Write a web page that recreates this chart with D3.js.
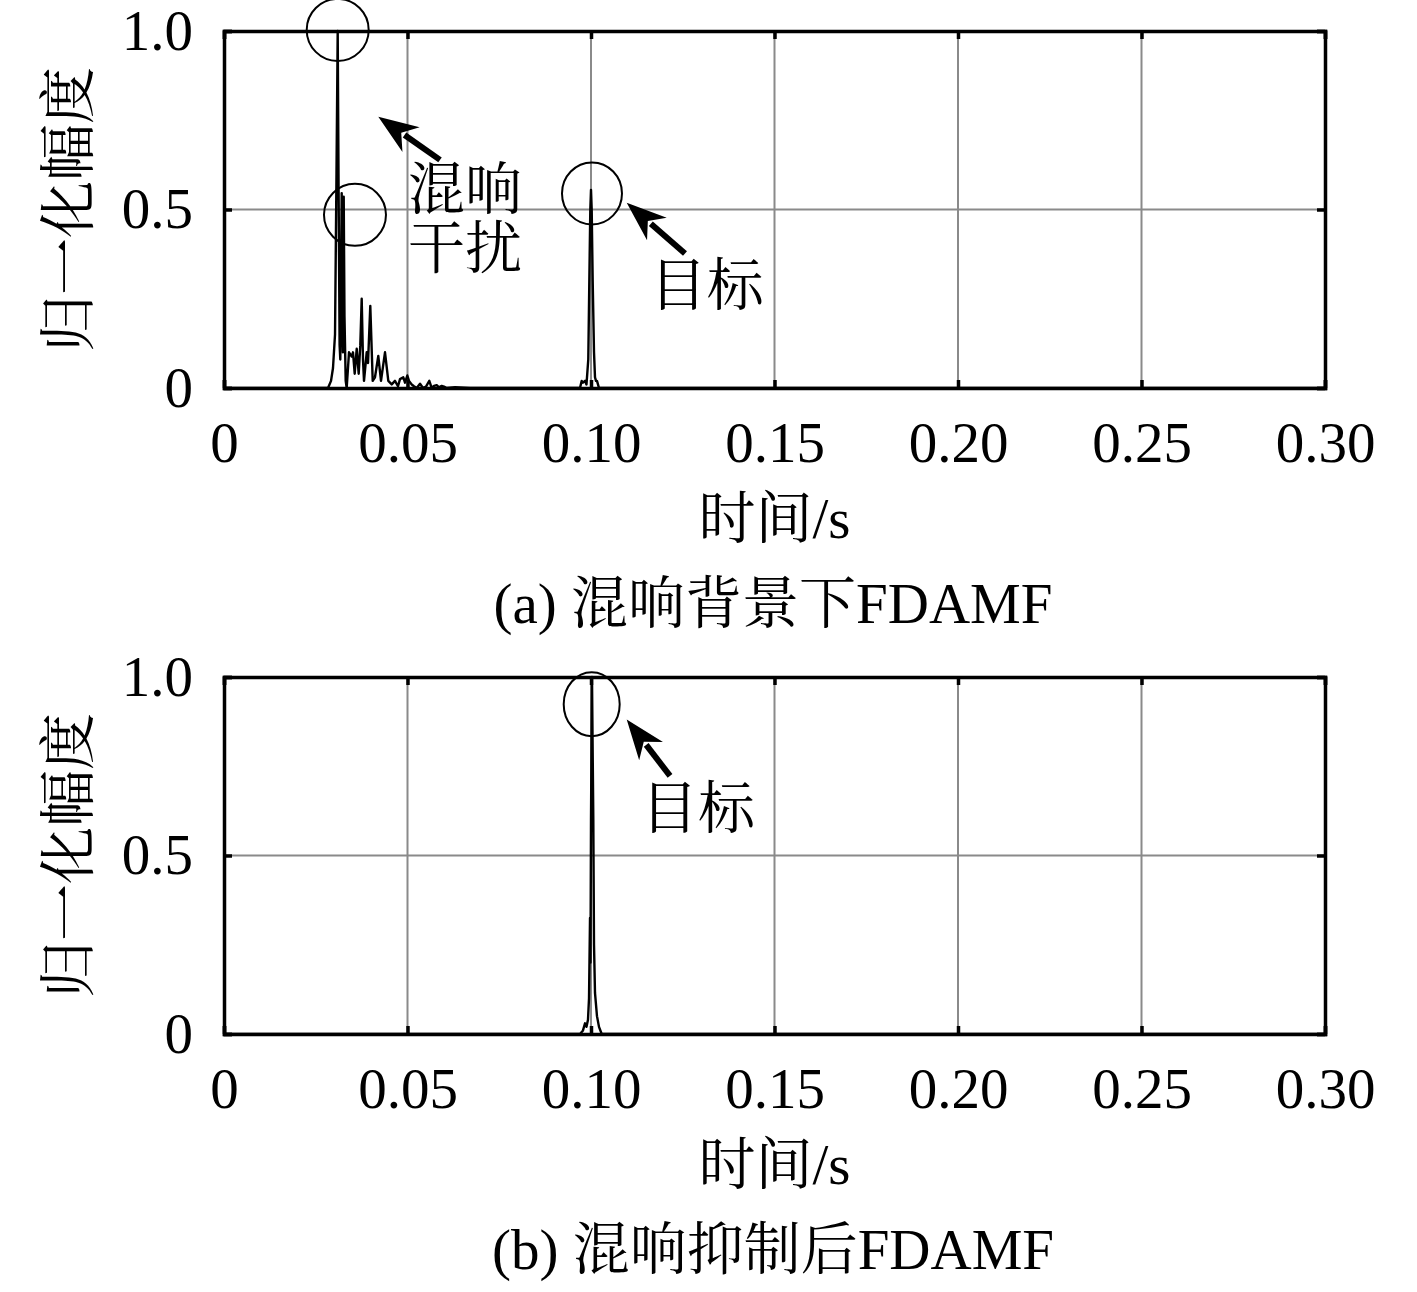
<!DOCTYPE html>
<html>
<head>
<meta charset="utf-8">
<script src="https://cdn.jsdelivr.net/npm/d3@7"></script>
<style>
  body { margin: 0; background: #fff; }
  text { fill: #000; }
</style>
</head>
<body>
<svg class="chart" width="1417" height="1292"></svg>
<script>
// ticks
var xTicks = [0, 0.05, 0.10, 0.15, 0.20, 0.25, 0.30];
var xTickLabels = ["0", "0.05", "0.10", "0.15", "0.20", "0.25", "0.30"];
var yTicks = [0, 0.5, 1.0];
var yTickLabels = ["0", "0.5", "1.0"];

// (a) with reverberation: time (s) and normalized amplitude
var timeA = [0, 0.02834, 0.02916, 0.02970, 0.03025, 0.03065, 0.03098, 0.03123, 0.03150, 0.03169,
  0.03188, 0.03207, 0.03226, 0.03240, 0.03262, 0.03283, 0.03316, 0.03343, 0.03406, 0.03480,
  0.03515, 0.03561, 0.03616, 0.03670, 0.03714, 0.03752, 0.03787, 0.03815, 0.03888, 0.03924,
  0.03986, 0.04052, 0.04114, 0.04204, 0.04278, 0.04332, 0.04387, 0.04477, 0.04570, 0.04659,
  0.04741, 0.04796, 0.04886, 0.04932, 0.04995, 0.05041, 0.05114, 0.05177, 0.05251, 0.05341,
  0.05422, 0.05504, 0.05594, 0.05659, 0.05722, 0.05796, 0.05858, 0.05932, 0.05995, 0.06068,
  0.06294, 0.06703,
  0.09700, 0.09747, 0.09782, 0.09837, 0.09877, 0.09926, 0.09954, 0.09981, 0.10000, 0.10019,
  0.10046, 0.10082, 0.10109, 0.10136, 0.10163, 0.10218, 0.30];
var ampA = [0, 0, 0.02, 0.056, 0.15, 0.60, 1.0, 0.55, 0.12, 0.08,
  0.30, 0.546, 0.20, 0.10, 0.536, 0.20, 0.02, 0.0, 0.10, 0.088,
  0.10, 0.04, 0.11, 0.04, 0.12, 0.25, 0.08, 0.02, 0.10, 0.07,
  0.23, 0.02, 0.03, 0.09, 0.02, 0.06, 0.10, 0.02, 0.01, 0.02,
  0.005, 0.025, 0.03, 0.015, 0.035, 0.02, 0.01, 0.005, 0.0, 0.012,
  0.0, 0.004, 0.02, 0.0, 0.006, 0.008, 0.002, 0.006, 0.004, 0.0,
  0.002, 0,
  0, 0.02, 0.015, 0.02, 0.01, 0.08, 0.30, 0.50, 0.555, 0.50,
  0.30, 0.10, 0.03, 0.02, 0.02, 0, 0];

// (b) after reverberation suppression
var timeB = [0, 0.09700, 0.09782, 0.09837, 0.09877, 0.09918, 0.09946, 0.09973, 0.09986, 0.10000,
  0.10027, 0.10063, 0.10082, 0.10109, 0.10163, 0.10218, 0.10292, 0.30];
var ampB = [0, 0, 0.01, 0.03, 0.02, 0.04, 0.10, 0.325, 0.20, 0.60,
  1.0, 0.60, 0.25, 0.115, 0.05, 0.02, 0, 0];

var panels = [
  { top: 31, time: timeA, amp: ampA, title: "(a) 混响背景下FDAMF",
    circles: [[0.03098, 1.003, 31, 31], [0.03569, 0.485, 31, 31], [0.10027, 0.545, 30, 31]],
    arrows: [[0.05886, 0.639, 0.04204, 0.760], [0.12561, 0.377, 0.10973, 0.519]],
    notes: [["混响", 0.06567, 0.555], ["干扰", 0.06567, 0.392], ["目标", 0.13153, 0.286]] },
  { top: 677, time: timeB, amp: ampB, title: "(b) 混响抑制后FDAMF",
    circles: [[0.10019, 0.924, 28, 32]],
    arrows: [[0.12153, 0.723, 0.10973, 0.881]],
    notes: [["目标", 0.12916, 0.633]] }
];

var svg = d3.select(".chart"),
    left = 224, right = 1325, plotH = 357,
    latin = "'Liberation Serif', 'Times New Roman', serif",
    cjk = "'Liberation Serif', 'Noto Serif CJK SC', 'Noto Sans CJK SC', serif",
    fs = 57;

var x = d3.scaleLinear().domain([0, 0.30]).range([left, right]);

panels.forEach(function(p) {
  var y = d3.scaleLinear().domain([0, 1]).range([p.top + plotH, p.top]);
  var g = svg.append("g");

  // grid
  g.selectAll(".vgrid").data(xTicks.slice(1, -1)).enter().append("line")
    .attr("x1", function(d) { return x(d); }).attr("x2", function(d) { return x(d); })
    .attr("y1", y(0)).attr("y2", y(1))
    .attr("stroke", "#8a8a8a").attr("stroke-width", 2);
  g.selectAll(".hgrid").data([0.5]).enter().append("line")
    .attr("x1", left).attr("x2", right)
    .attr("y1", function(d) { return y(d); }).attr("y2", function(d) { return y(d); })
    .attr("stroke", "#8a8a8a").attr("stroke-width", 2);

  // curve
  var pts = p.time.map(function(t, i) { return [t, p.amp[i]]; });
  g.append("path")
    .datum(pts)
    .attr("fill", "none")
    .attr("stroke", "#000")
    .attr("stroke-width", 2.4)
    .attr("stroke-linejoin", "round")
    .attr("d", d3.line().x(function(d) { return x(d[0]); }).y(function(d) { return y(d[1]); }));

  // axes with inward ticks on all four sides
  var xb = g.append("g").attr("transform", "translate(0," + y(0) + ")")
    .call(d3.axisBottom(x).tickValues(xTicks).tickSize(-8).tickPadding(30)
      .tickFormat(function(d, i) { return xTickLabels[i]; }));
  xb.selectAll(".tick text").attr("y", 34).attr("dy", "0.71em");
  var xt = g.append("g").attr("transform", "translate(0," + y(1) + ")")
    .call(d3.axisTop(x).tickValues(xTicks).tickSize(-8).tickFormat(""));
  var yl = g.append("g").attr("transform", "translate(" + left + ",0)")
    .call(d3.axisLeft(y).tickValues(yTicks).tickSize(-8).tickPadding(31)
      .tickFormat(function(d, i) { return yTickLabels[i]; }));
  var yr = g.append("g").attr("transform", "translate(" + right + ",0)")
    .call(d3.axisRight(y).tickValues(yTicks).tickSize(-8).tickFormat(""));
  [xb, xt, yl, yr].forEach(function(a) {
    a.attr("font-family", latin).attr("font-size", fs);
    a.select(".domain").attr("stroke", "#000").attr("stroke-width", 3.5);
    a.selectAll(".tick line").attr("stroke", "#000").attr("stroke-width", 3.5);
    a.selectAll(".tick text").attr("fill", "#000");
  });

  // axis labels and caption
  g.append("text")
    .attr("x", (left + right) / 2).attr("y", p.top + plotH + 130)
    .attr("text-anchor", "middle").attr("dominant-baseline", "central")
    .attr("font-family", cjk).attr("font-size", fs)
    .text("时间/s");
  g.append("text")
    .attr("transform", "translate(68," + (p.top + plotH / 2) + ") rotate(-90)")
    .attr("text-anchor", "middle").attr("dominant-baseline", "central")
    .attr("font-family", cjk).attr("font-size", fs)
    .text("归一化幅度");
  g.append("text")
    .attr("x", 773).attr("y", p.top + plotH + 215)
    .attr("text-anchor", "middle").attr("dominant-baseline", "central")
    .attr("font-family", cjk).attr("font-size", fs)
    .text(p.title);

  // annotations
  g.selectAll(".ring").data(p.circles).enter().append("ellipse")
    .attr("cx", function(d) { return x(d[0]); }).attr("cy", function(d) { return y(d[1]); })
    .attr("rx", function(d) { return d[2]; }).attr("ry", function(d) { return d[3]; })
    .attr("fill", "none").attr("stroke", "#000").attr("stroke-width", 2);

  p.arrows.forEach(function(a) {
    var x0 = x(a[0]), y0 = y(a[1]), x1 = x(a[2]), y1 = y(a[3]);
    var ang = Math.atan2(y1 - y0, x1 - x0), hl = 40, hw = 15;
    var bx = x1 - hl * Math.cos(ang), by = y1 - hl * Math.sin(ang);
    g.append("line")
      .attr("x1", x0).attr("y1", y0).attr("x2", bx + 8 * Math.cos(ang)).attr("y2", by + 8 * Math.sin(ang))
      .attr("stroke", "#000").attr("stroke-width", 6);
    g.append("path")
      .attr("d", "M" + x1 + "," + y1 +
        "L" + (bx + hw * Math.sin(ang)) + "," + (by - hw * Math.cos(ang)) +
        "L" + (bx + 0.3 * hl * Math.cos(ang)) + "," + (by + 0.3 * hl * Math.sin(ang)) +
        "L" + (bx - hw * Math.sin(ang)) + "," + (by + hw * Math.cos(ang)) + "Z")
      .attr("fill", "#000");
  });

  g.selectAll(".note").data(p.notes).enter().append("text")
    .attr("x", function(d) { return x(d[1]); }).attr("y", function(d) { return y(d[2]); })
    .attr("text-anchor", "middle").attr("dominant-baseline", "central")
    .attr("font-family", cjk).attr("font-size", fs)
    .text(function(d) { return d[0]; });
});
</script>
</body>
</html>
